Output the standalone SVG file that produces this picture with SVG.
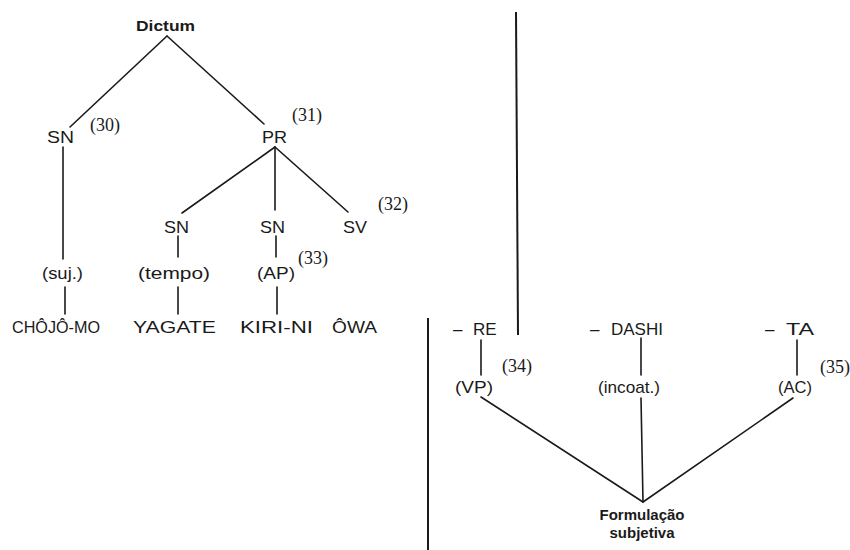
<svg xmlns="http://www.w3.org/2000/svg" width="850" height="550" viewBox="0 0 850 550">
  <style>
    .lbl { font-family: "Liberation Sans", Arial, sans-serif; font-size: 17px; fill: #1a1a1a; }
    .bold { font-family: "Liberation Sans", Arial, sans-serif; font-size: 15px; font-weight: bold; fill: #1a1a1a; }
    .num { font-family: "Liberation Serif", "Times New Roman", serif; font-size: 18px; fill: #1a1a1a; }
    .edge { stroke: #1a1a1a; stroke-width: 1.6; fill: none; stroke-linecap: round; }
    .rule { stroke: #1a1a1a; stroke-width: 2; fill: none; }
  </style>
  <rect width="850" height="550" fill="#ffffff"/>

  <!-- connectors -->
  <g id="connectors">
    <line class="edge" x1="167" y1="36" x2="70" y2="127"/>
    <line class="edge" x1="167" y1="36" x2="264" y2="124"/>
    <line class="edge" x1="63" y1="147" x2="63" y2="259"/>
    <line class="edge" x1="275" y1="147" x2="182" y2="213"/>
    <line class="edge" x1="275" y1="147" x2="275" y2="210"/>
    <line class="edge" x1="275" y1="147" x2="348" y2="212"/>
    <line class="edge" x1="178" y1="236" x2="178" y2="257"/>
    <line class="edge" x1="276" y1="236" x2="276" y2="257"/>
    <line class="edge" x1="65" y1="287" x2="65" y2="314"/>
    <line class="edge" x1="178" y1="287" x2="178" y2="314"/>
    <line class="edge" x1="277" y1="287" x2="277" y2="314"/>
    <line class="edge" x1="481" y1="340" x2="481" y2="375"/>
    <line class="edge" x1="641" y1="338" x2="641" y2="375"/>
    <line class="edge" x1="797" y1="340" x2="797" y2="375"/>
    <line class="edge" x1="481" y1="397" x2="643" y2="502"/>
    <line class="edge" x1="641" y1="398" x2="643" y2="502"/>
    <line class="edge" x1="793" y1="398" x2="643" y2="502"/>
  </g>

  <!-- dividing rules -->
  <g id="rules">
    <line class="rule" x1="516" y1="12" x2="518" y2="335"/>
    <line class="rule" x1="428" y1="318" x2="428" y2="550"/>
  </g>

  <!-- left tree -->
  <g id="dictum"><text class="bold" x="136" y="31" textLength="59" lengthAdjust="spacingAndGlyphs">Dictum</text></g>
  <g id="sn-subj">
    <text class="lbl" x="47" y="143" textLength="27" lengthAdjust="spacingAndGlyphs">SN</text>
    <text class="num" x="90" y="131">(30)</text>
  </g>
  <g id="pr">
    <text class="lbl" x="262" y="143" textLength="25" lengthAdjust="spacingAndGlyphs">PR</text>
    <text class="num" x="292" y="121">(31)</text>
  </g>
  <g id="sn-tempo"><text class="lbl" x="164" y="233" textLength="25" lengthAdjust="spacingAndGlyphs">SN</text></g>
  <g id="sn-ap"><text class="lbl" x="260" y="233" textLength="25" lengthAdjust="spacingAndGlyphs">SN</text></g>
  <g id="sv">
    <text class="lbl" x="343" y="233" textLength="24" lengthAdjust="spacingAndGlyphs">SV</text>
    <text class="num" x="378" y="210">(32)</text>
  </g>
  <g id="suj"><text class="lbl" x="42" y="279" textLength="41" lengthAdjust="spacingAndGlyphs">(suj.)</text></g>
  <g id="tempo"><text class="lbl" x="138" y="279" textLength="72" lengthAdjust="spacingAndGlyphs">(tempo)</text></g>
  <g id="ap">
    <text class="lbl" x="257" y="279" textLength="38" lengthAdjust="spacingAndGlyphs">(AP)</text>
    <text class="num" x="298" y="264">(33)</text>
  </g>
  <g id="chojo-mo"><text class="lbl" x="12" y="333" textLength="88" lengthAdjust="spacingAndGlyphs">CHÔJÔ-MO</text></g>
  <g id="yagate"><text class="lbl" x="133" y="333" textLength="83" lengthAdjust="spacingAndGlyphs">YAGATE</text></g>
  <g id="kiri-ni"><text class="lbl" x="240" y="333" textLength="73" lengthAdjust="spacingAndGlyphs">KIRI-NI</text></g>
  <g id="owa"><text class="lbl" x="332" y="333" textLength="45" lengthAdjust="spacingAndGlyphs">ÔWA</text></g>

  <!-- right tree -->
  <g id="re">
    <text class="lbl" x="453" y="335">– <tspan x="473">RE</tspan></text>
    <text class="num" x="502" y="372">(34)</text>
  </g>
  <g id="dashi"><text class="lbl" x="590" y="335">– <tspan x="611">DASHI</tspan></text></g>
  <g id="ta">
    <text class="lbl" x="765" y="335">– <tspan x="786" textLength="28" lengthAdjust="spacingAndGlyphs">TA</tspan></text>
    <text class="num" x="820" y="373">(35)</text>
  </g>
  <g id="vp"><text class="lbl" x="455" y="393" textLength="38" lengthAdjust="spacingAndGlyphs">(VP)</text></g>
  <g id="incoat"><text class="lbl" x="598" y="393" textLength="62" lengthAdjust="spacingAndGlyphs">(incoat.)</text></g>
  <g id="ac"><text class="lbl" x="778" y="393" textLength="34" lengthAdjust="spacingAndGlyphs">(AC)</text></g>
  <g id="formulacao">
    <text class="bold" x="642" y="520" text-anchor="middle">Formulação</text>
    <text class="bold" x="642" y="538" text-anchor="middle">subjetiva</text>
  </g>
</svg>
